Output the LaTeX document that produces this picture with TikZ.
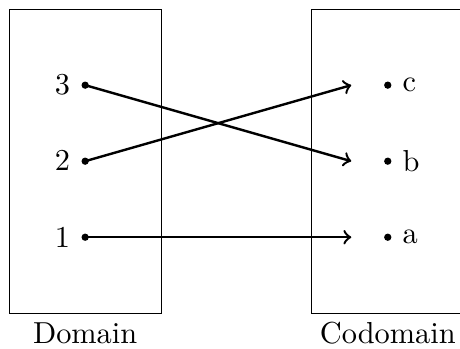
\documentclass[tikz,border=0pt]{standalone}
\usepackage{amssymb}
\usetikzlibrary{shapes}

\begin{document}
\begin{tikzpicture}[x=0.88cm,y=0.88cm,
setbox/.style={rectangle, draw, minimum width=1.76cm, minimum height=3.52cm, inner sep=0pt},
dotnode/.style={circle, fill, inner sep=0.85pt, label distance=-1.5pt},
map arrow/.style={->, thick, shorten <=-1pt}
]
\useasboundingbox (-0.12,-0.47) rectangle (5.93,4.12);
%Sets
\node[setbox] at (1,2) (DOM)   {};
\node[setbox] at (4.98,2) (CODOM) {};
\node at (1,-0.26) (DOM-LABEL)   {Domain};
\node at (4.98,-0.26) (CODOM-LABEL) {Codomain};

%Nodes
\node[dotnode,label=left:$1$] at (1,1) (ONE)   {};
\node[dotnode,label=left:$2$] at (1,2) (TWO)   {};
\node[dotnode,label=left:$3$] at (1,3) (THREE) {};

\node[dotnode,label=right:a] at (4.98,1) (A) {};
\node[dotnode,label=right:b] at (4.98,2) (B) {};
\node[dotnode,label=right:c] at (4.98,3) (C) {};

\coordinate (A-IN) at (4.5,1);
\coordinate (B-IN) at (4.5,2);
\coordinate (C-IN) at (4.5,3);

%Lines
\draw[map arrow] (ONE.center)   -- (A-IN);
\draw[map arrow] (TWO.center)   -- (C-IN);
\draw[map arrow] (THREE.center) -- (B-IN);
\end{tikzpicture}
\end{document}
